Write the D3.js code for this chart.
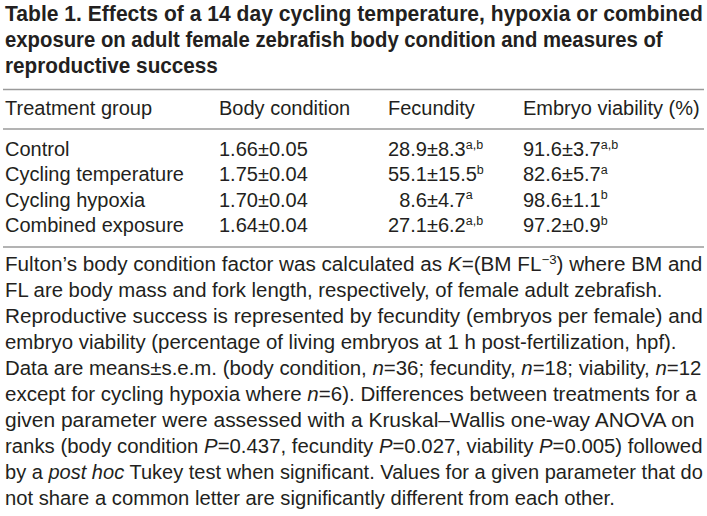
<!DOCTYPE html>
<html>
<head>
<meta charset="utf-8">
<script src="https://cdn.jsdelivr.net/npm/d3@7"></script>
<style>
  html, body { margin: 0; padding: 0; background: #fff; }
  svg { display: block; }
</style>
</head>
<body>
<svg id="chart" width="707" height="516"></svg>
<script>
// ---------- data ----------
const titleLines = [
  "Table 1. Effects of a 14 day cycling temperature, hypoxia or combined",
  "exposure on adult female zebrafish body condition and measures of",
  "reproductive success"
];
const columns = ["Treatment group", "Body condition", "Fecundity", "Embryo viability (%)"];
const groups = ["Control", "Cycling temperature", "Cycling hypoxia", "Combined exposure"];
const bodyMean = [1.66, 1.75, 1.70, 1.64];
const bodySem  = [0.05, 0.04, 0.04, 0.04];
const fecMean  = [28.9, 55.1, 8.6, 27.1];
const fecSem   = [8.3, 15.5, 4.7, 6.2];
const fecSig   = ["a,b", "b", "a", "a,b"];
const viaMean  = [91.6, 82.6, 98.6, 97.2];
const viaSem   = [3.7, 5.7, 1.1, 0.9];
const viaSig   = ["a,b", "a", "b", "b"];
// footnote lines: segments [text, style] (i = italic, s = superscript)
const footLines = [
  [["Fulton\u2019s body condition factor was calculated as "], ["K", "i"], ["=(BM FL"], ["\u22123", "s"], [") where BM and"]],
  [["FL are body mass and fork length, respectively, of female adult zebrafish."]],
  [["Reproductive success is represented by fecundity (embryos per female) and"]],
  [["embryo viability (percentage of living embryos at 1 h post-fertilization, hpf)."]],
  [["Data are means\u00b1s.e.m. (body condition, "], ["n", "i"], ["=36; fecundity, "], ["n", "i"], ["=18; viability, "], ["n", "i"], ["=12"]],
  [["except for cycling hypoxia where "], ["n", "i"], ["=6). Differences between treatments for a"]],
  [["given parameter were assessed with a Kruskal\u2013Wallis one-way ANOVA on"]],
  [["ranks (body condition "], ["P", "i"], ["=0.437, fecundity "], ["P", "i"], ["=0.027, viability "], ["P", "i"], ["=0.005) followed"]],
  [["by a "], ["post hoc", "i"], [" Tukey test when significant. Values for a given parameter that do"]],
  [["not share a common letter are significantly different from each other."]]
];

// ---------- layout ----------
const svg = d3.select("#chart");
const ink = "#231f20";
const ruleColor = "#9a9a9a";
const left = 5;
const sans = "'Liberation Sans', Arial, Helvetica, sans-serif";
// right edges of each wrapped line in the reference layout
const titleEnds = [703, 663, 218];
const footEnds = [703, 663, 703, 677, 702, 697, 695, 703, 703, 615];

function fitLine(sel, ends) {
  sel.each(function(d, i) {
    const w = this.getComputedTextLength();
    const y = +d3.select(this).attr("data-y");
    d3.select(this)
      .attr("x", 0).attr("y", 0)
      .attr("transform", `translate(${left},${y}) scale(${(ends[i] - left) / w},1)`);
  });
}

// title
const titleY = d3.scalePoint().domain(d3.range(titleLines.length)).range([21, 73]);
const tt = svg.append("g").selectAll("text").data(titleLines).join("text")
  .attr("data-y", (d, i) => titleY(i))
  .attr("font-family", "'Liberation Sans Narrow', " + sans)
  .attr("font-weight", "bold")
  .attr("font-size", 22.5)
  .attr("fill", ink)
  .text(d => d);
fitLine(tt, titleEnds);

// rules
const rules = [89.5, 129, 247];
svg.selectAll("line.rule").data(rules).join("line")
  .attr("class", "rule")
  .attr("x1", 3).attr("x2", 704)
  .attr("y1", d => d).attr("y2", d => d)
  .attr("stroke", ruleColor).attr("stroke-width", 1.5);

// table
const fs = 20;
const colX = d3.scaleOrdinal().domain(columns).range([left, 219, 388, 523]);
const rowY = d3.scalePoint().domain(groups).range([156, 232]);

svg.selectAll("text.head").data(columns).join("text")
  .attr("class", "head")
  .attr("x", d => colX(d)).attr("y", 115)
  .attr("font-family", sans).attr("font-size", fs).attr("fill", ink)
  .text(d => d);

svg.selectAll("text.grp").data(groups).join("text")
  .attr("class", "grp")
  .attr("x", colX(columns[0])).attr("y", d => rowY(d))
  .attr("font-family", sans).attr("font-size", fs).attr("fill", ink)
  .text(d => d);

const f2 = d3.format(".2f"), f1 = d3.format(".1f");

const meas = svg.append("text").attr("font-family", sans).attr("font-size", fs).attr("visibility", "hidden");
function textW(s) { meas.text(s); return meas.node().getComputedTextLength(); }

function valueColumn(col, means, sems, sigs, fmt) {
  // decimal-aligned on the end of the mean
  const maxMeanW = d3.max(means, m => textW(fmt(m)));
  const anchor = colX(col) + maxMeanW;
  const g = svg.append("g");
  groups.forEach((grp, i) => {
    g.append("text")
      .attr("x", anchor).attr("y", rowY(grp))
      .attr("text-anchor", "end")
      .attr("font-family", sans).attr("font-size", fs).attr("fill", ink)
      .text(fmt(means[i]));
    const t = g.append("text")
      .attr("x", anchor).attr("y", rowY(grp))
      .attr("font-family", sans).attr("font-size", fs).attr("fill", ink);
    t.append("tspan").text("\u00b1" + fmt(sems[i]));
    if (sigs) {
      t.append("tspan").attr("font-size", 12.5).attr("dy", -7.5).text(sigs[i]);
    }
  });
}
valueColumn(columns[1], bodyMean, bodySem, null, f2);
valueColumn(columns[2], fecMean, fecSem, fecSig, f1);
valueColumn(columns[3], viaMean, viaSem, viaSig, f1);

// footnote
const footY = d3.scalePoint().domain(d3.range(footLines.length)).range([271, 505]);
const ft = svg.append("g").selectAll("text").data(footLines).join("text")
  .attr("data-y", (d, i) => footY(i))
  .attr("font-family", sans)
  .attr("font-size", 19.5)
  .attr("fill", ink);
ft.each(function(segs) {
  const t = d3.select(this);
  let raised = false;
  segs.forEach(([s, st]) => {
    const sp = t.append("tspan").text(s);
    if (st === "i") sp.attr("font-style", "italic");
    if (st === "s") { sp.attr("font-size", 12.5).attr("dy", -7); raised = true; }
    else if (raised) { sp.attr("dy", 7); raised = false; }
  });
});
fitLine(ft, footEnds);
</script>
</body>
</html>
